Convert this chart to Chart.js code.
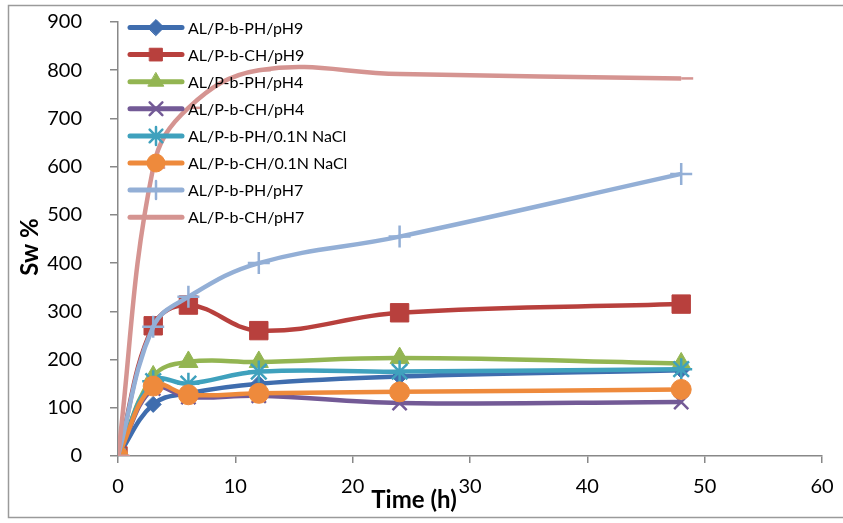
<!DOCTYPE html>
<html>
<head>
<meta charset="utf-8">
<script src="https://cdn.jsdelivr.net/npm/chart.js@4/dist/chart.umd.min.js"></script>
<style>
  body { margin: 0; background: #fff; }
  #wrap { width: 843px; height: 523px; }
</style>
</head>
<body>
<div id="wrap"><canvas id="myChart" width="843" height="523"></canvas></div>
<script>
// data
var times = [0, 3, 6, 12, 24, 48];
var labels = ["AL/P-b-PH/pH9", "AL/P-b-CH/pH9", "AL/P-b-PH/pH4", "AL/P-b-CH/pH4",
  "AL/P-b-PH/0.1N NaCl", "AL/P-b-CH/0.1N NaCl", "AL/P-b-PH/pH7", "AL/P-b-CH/pH7"];
var phPH9 = [0, 107, 130, 150, 165, 178];
var phCH9 = [0, 270, 313, 260, 297, 315];
var phPH4 = [0, 165, 195, 195, 203, 192];
var phCH4 = [0, 140, 122, 125, 110, 112];
var naclPH = [0, 155, 150, 175, 175, 180];
var naclCH = [0, 145, 127, 130, 133, 138];
var phPH7 = [0, 268, 330, 400, 455, 585];
var phCH7 = [0, 598, 722, 800, 792, 783];
var xTicks = [0, 10, 20, 30, 40, 50, 60];
var yTicks = [0, 100, 200, 300, 400, 500, 600, 700, 800, 900];

var series = [phPH9, phCH9, phPH4, phCH4, naclPH, naclCH, phPH7, phCH7];
var colors = ["#3F6DAE", "#B8403D", "#93B552", "#735A96", "#3FA1BD", "#EE8A3C", "#93AFD6", "#D59491"];
var styles = ["rectRot", "rect", "triangle", "crossRot", "star", "circle", "cross", "dash"];
var radii = [8, 13, 11, 10, 11, 10, 11, 12];

var FONT = "Lato, 'Open Sans', sans-serif";

function pts(arr) {
  return arr.map(function (v, i) { return { x: times[i], y: v }; });
}

var datasets = series.map(function (s, i) {
  return {
    label: labels[i],
    data: pts(s),
    borderColor: colors[i],
    backgroundColor: colors[i],
    borderWidth: 4.5,
    tension: 0.4,
    pointStyle: styles[i],
    pointRadius: radii[i],
    pointBorderWidth: (styles[i] == "cross" || styles[i] == "crossRot" || styles[i] == "star" || styles[i] == "dash") ? 2.5 : 1,
    order: series.length - i
  };
});

// legend drawn inside the plot, line + marker like the spreadsheet
var insideLegend = {
  id: 'insideLegend',
  afterDatasetsDraw: function (chart) {
    var c = chart.ctx;
    c.save();
    for (var i = 0; i < datasets.length; i++) {
      var y = 27.5 + i * 27.1;
      c.strokeStyle = colors[i];
      c.lineWidth = 5;
      c.lineCap = 'round';
      c.beginPath();
      c.moveTo(130, y);
      c.lineTo(182, y);
      c.stroke();
      c.fillStyle = colors[i];
      c.lineWidth = datasets[i].pointBorderWidth;
      Chart.helpers.drawPoint(c, { pointStyle: styles[i], radius: Math.min(radii[i], 9), borderWidth: datasets[i].pointBorderWidth }, 156, y);
      c.fillStyle = '#000';
      c.font = "16px " + FONT;
      c.textBaseline = 'middle';
      c.textAlign = 'left';
      c.fillText(labels[i], 188, y + 1);
    }
    c.restore();
  }
};

var frameAndTitles = {
  id: 'frameAndTitles',
  beforeDraw: function (chart) {
    var c = chart.ctx;
    c.save();
    c.fillStyle = '#fff';
    c.fillRect(0, 0, 843, 523);
    c.strokeStyle = '#9a9a9a';
    c.lineWidth = 1.5;
    c.strokeRect(8.5, 5.5, 900, 512);
    c.restore();
  },
  afterDraw: function (chart) {
    var c = chart.ctx;
    c.save();
    c.fillStyle = '#000';
    c.font = "bold 24px " + FONT;
    c.textAlign = 'center';
    c.textBaseline = 'middle';
    c.fillText("Time (h)", 414, 500);
    c.translate(30, 247);
    c.rotate(-Math.PI / 2);
    c.fillText("Sw %", 0, 0);
    c.restore();
  }
};

var ctx = document.getElementById("myChart").getContext('2d');
var myChart = new Chart(ctx, {
  type: 'line',
  data: { datasets: datasets },
  plugins: [frameAndTitles, insideLegend],
  options: {
    responsive: false,
    animation: false,
    layout: { autoPadding: false, padding: { left: 0, top: 22, right: 21, bottom: 0 } },
    plugins: { legend: { display: false }, tooltip: { enabled: false } },
    scales: {
      x: {
        type: 'linear',
        min: 0, max: 60,
        afterFit: function (s) { s.height = 67; s.paddingLeft = 0; s.paddingRight = 0; },
        afterBuildTicks: function (s) { s.ticks = xTicks.map(function (v) { return { value: v }; }); },
        grid: { drawOnChartArea: false, drawTicks: true, tickLength: 7, color: '#888', lineWidth: 1.5 },
        border: { color: '#888', width: 1.5 },
        ticks: { color: '#000', font: { family: FONT, size: 20 }, padding: 12, maxRotation: 0 }
      },
      y: {
        min: 0, max: 900,
        afterFit: function (s) { s.width = 118; s.paddingTop = 0; s.paddingBottom = 0; },
        afterBuildTicks: function (s) { s.ticks = yTicks.map(function (v) { return { value: v }; }); },
        grid: { drawOnChartArea: false, drawTicks: true, tickLength: 8, color: '#888', lineWidth: 1.5 },
        border: { color: '#888', width: 1.5 },
        ticks: { color: '#000', font: { family: FONT, size: 20 }, padding: 28 }
      }
    }
  }
});
</script>
</body>
</html>
